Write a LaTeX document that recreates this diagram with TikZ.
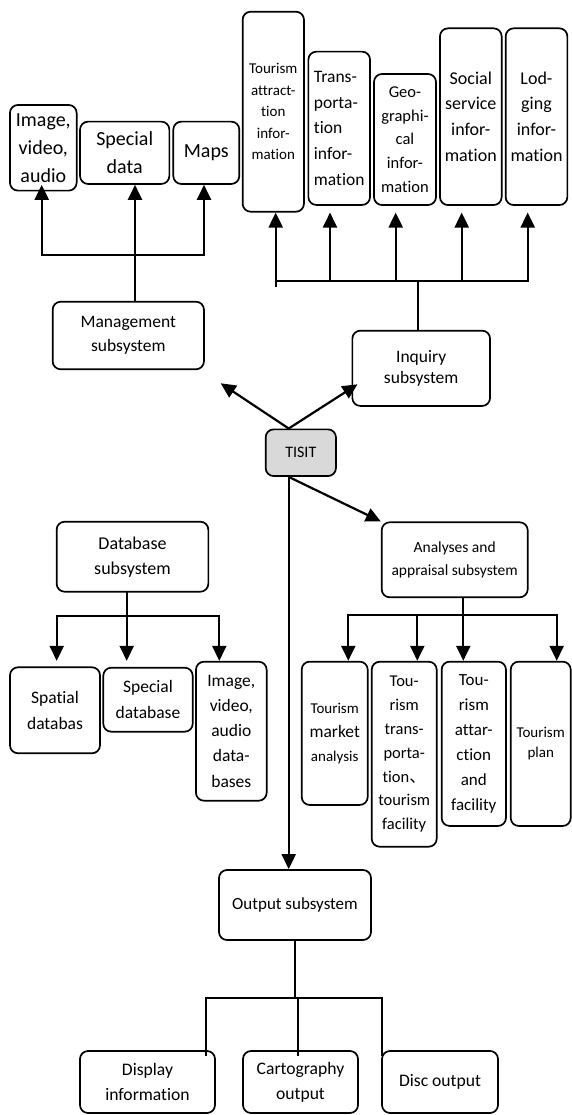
\documentclass[tikz,border=0pt]{standalone}
\usepackage{fontspec}
\setmainfont{Carlito}[Ligatures=NoCommon]
\newfontfamily\cjk{Noto Sans CJK SC}
\usetikzlibrary{
  positioning,
  calc,
  arrows.meta}
\definecolor{rootcolor}{RGB}{217,217,217}
\tikzset{
  %% box : a rounded box of the system chart
  box/.style={
    rectangle,
    draw=black,
    line width=1.7pt,
    rounded corners=8pt,
    inner sep=0pt,
    align=center
  },
  %% rootbox : the system itself
  rootbox/.style={
    box,
    fill=rootcolor
  },
  %% fs : font size and line spacing
  fs/.style 2 args={font=\fontsize{#1}{#2}\selectfont},
  %% wire : plain connection
  wire/.style={line width=2.2pt, line cap=rect},
  %% feed : connection with an arrow head
  feed/.style={line width=2.2pt, -{Triangle[length=15pt, width=14pt]}}
}

\begin{document}
\begin{tikzpicture}
  [x=1pt,
  y=-1pt,
  align=center]

  \useasboundingbox (0,0) rectangle (572,1115);
  \clip (0,0) rectangle (572,1115);

  %% management subsystem
  \node (imgdata) [box, fs={20}{28}, minimum width=66.7pt, minimum height=85.7pt]
    at (43.3,147.8) {%
    Image,\\video,\\audio};
  \node (specdata) [box, fs={20}{28}, minimum width=89.3pt, minimum height=62.3pt]
    at (124.7,152.8) {%
    Special\\data};
  \node (maps) [box, fs={20}{28}, minimum width=66pt, minimum height=62.3pt]
    at (206.3,152.8) {%
    Maps};
  \node (mgmt) [box, fs={17.5}{24}, minimum width=151.3pt, minimum height=67.6pt]
    at (128.3,335.5) {%
    Management\\subsystem};

  %% inquiry subsystem
  \node (tourinfo) [box, fs={15}{21.5}, minimum width=61.3pt, minimum height=200pt]
    at (273.3,111.7) {%
    Tourism\\attract-\\tion\\infor-\\mation};
  \node (transinfo) [box, fs={17.5}{25.8}, align=left, minimum width=61.7pt, minimum height=153.3pt]
    at (339.2,128.3) {%
    Trans-\\porta-\\tion\\infor-\\mation};
  \node (geoinfo) [box, fs={16.5}{23.7}, minimum width=62pt, minimum height=131pt]
    at (405,139.5) {%
    Geo-\\graphi-\\cal\\infor-\\mation};
  \node (socinfo) [box, fs={18}{25.8}, minimum width=61.7pt, minimum height=176.7pt]
    at (470.8,116.7) {%
    Social\\service\\infor-\\mation};
  \node (lodginfo) [box, fs={18}{25.8}, minimum width=61.7pt, minimum height=176.7pt]
    at (536.5,116.7) {%
    Lod-\\ging\\infor-\\mation};
  \node (inquiry) [box, fs={17.5}{21.5}, minimum width=137.7pt, minimum height=75.3pt]
    at (421.2,368.3) {%
    Inquiry\\subsystem};

  %% the system
  \node (tisit) [rootbox, fs={16}{20}, minimum width=70.3pt, minimum height=46.7pt]
    at (300.8,452.7) {%
    TISIT};

  %% database subsystem
  \node (database) [box, fs={18}{25}, minimum width=151.7pt, minimum height=70pt]
    at (132.5,556.7) {%
    Database\\subsystem};
  \node (spatialdb) [box, fs={17.5}{26}, minimum width=90pt, minimum height=86pt]
    at (55,710.3) {%
    Spatial\\databas};
  \node (specdb) [box, fs={17.5}{26}, minimum width=89.4pt, minimum height=64pt]
    at (148,699.7) {%
    Special\\database};
  \node (imgdb) [box, fs={17.5}{25.2}, minimum width=70.7pt, minimum height=139pt]
    at (231.3,731.2) {%
    Image,\\video,\\audio\\data-\\bases};

  %% analyses subsystem
  \node (analyses) [box, fs={15.5}{23}, minimum width=146pt, minimum height=75pt]
    at (454.7,559.8) {%
    Analyses and\\appraisal subsystem};
  \node (market) [box, fs={17.5}{24}, minimum width=66pt, minimum height=143.3pt]
    at (334.7,733.3) {%
    {\fontsize{15}{24}\selectfont Tourism}\\market\\{\fontsize{15}{24}\selectfont analysis}};
  \node (transfac) [box, fs={16.5}{23.9}, minimum width=65pt, minimum height=185pt]
    at (404.2,754.2) {%
    Tou-\\rism\\trans-\\porta-\\tion{\cjk 、}\\tourism\\facility};
  \node (attrfac) [box, fs={17}{25}, minimum width=64.3pt, minimum height=164.3pt]
    at (473.8,743.8) {%
    Tou-\\rism\\attar-\\ction\\and\\facility};
  \node (plan) [box, fs={15}{20}, minimum width=60pt, minimum height=164.3pt]
    at (540.7,743.8) {%
    Tourism\\plan};

  %% output subsystem
  \node (output) [box, fs={17}{20}, minimum width=152pt, minimum height=70pt]
    at (295,905) {%
    Output subsystem};
  \node (display) [box, fs={17.6}{25}, minimum width=135pt, minimum height=62pt]
    at (147.5,1082) {%
    Display\\information};
  \node (carto) [box, fs={17.6}{25}, minimum width=115pt, minimum height=62pt]
    at (300.5,1082) {%
    Cartography\\output};
  \node (disc) [box, fs={17.6}{25}, minimum width=116pt, minimum height=62pt]
    at (440,1082) {%
    Disc output};


  %% Connections

  % management
  \coordinate (mgmtL) at (41.7,255);
  \coordinate (mgmtM) at (135,255);
  \coordinate (mgmtR) at (204,255);
  \draw [feed] (mgmt.north -| mgmtM) -- (mgmtM |- specdata.south);
  \draw [wire] (mgmtL) -- (mgmtR);
  \draw [feed] (mgmtL) -- (mgmtL |- specdata.south);
  \draw [feed] (mgmtR) -- (mgmtR |- specdata.south);

  % inquiry
  \coordinate (inqL) at (275.7,281);
  \coordinate (inqM) at (418.3,281);
  \coordinate (inqR) at (527.7,281);
  \coordinate (inq2) at (330,281);
  \coordinate (inq3) at (395.7,281);
  \coordinate (inq4) at (461.7,281);
  \draw [wire] (inquiry.north -| inqM) -- (inqM);
  \draw [wire] (inqL) -- (inqR);
  \draw [feed] ([yshift=-6.3pt]inqL) -- (inqL |- tourinfo.south);
  \draw [feed] (inq2) -- (inq2 |- tourinfo.south);
  \draw [feed] (inq3) -- (inq3 |- tourinfo.south);
  \draw [feed] (inq4) -- (inq4 |- tourinfo.south);
  \draw [feed] (inqR) -- (inqR |- tourinfo.south);

  % system
  \coordinate (tisitx) at (288.7,0);
  \coordinate (mgmtgap) at (220.7,383.3);
  \draw [feed] (tisit.north -| tisitx) -- (mgmtgap);
  \draw [feed] (tisit.north -| tisitx) -- ([xshift=6pt, yshift=-16pt]inquiry.west);
  \draw [feed] (tisit.south -| tisitx) -- (analyses.north west);
  \draw [feed] (tisit.south -| tisitx) -- (tisitx |- output.north);

  % database
  \coordinate (dbL) at (56.7,615.7);
  \coordinate (dbM) at (126.7,615.7);
  \coordinate (dbR) at (219.3,615.7);
  \draw [wire] (database.south -| dbM) -- (dbM);
  \draw [wire] (dbL) -- (dbR);
  \draw [feed] (dbL) -- (dbL |- imgdb.north);
  \draw [feed] (dbM) -- (dbM |- imgdb.north);
  \draw [feed] (dbR) -- (dbR |- imgdb.north);

  % analyses
  \coordinate (anL) at (348.3,615);
  \coordinate (an2) at (417.3,615);
  \coordinate (anM) at (463.3,615);
  \coordinate (anR) at (556.7,615);
  \draw [wire] (analyses.south -| anM) -- (anM);
  \draw [wire] (anL) -- (anR);
  \draw [feed] (anL) -- (anL |- market.north);
  \draw [feed] (an2) -- (an2 |- market.north);
  \draw [feed] (anM) -- (anM |- market.north);
  \draw [feed] (anR) -- (anR |- market.north);

  % output
  \coordinate (outL) at (206,998);
  \coordinate (outM) at (295,998);
  \coordinate (out2) at (298,998);
  \coordinate (outR) at (382,998);
  \draw [wire] (output.south -| outM) -- (outM);
  \draw [wire] (outL) -- (outR);
  \draw [wire] (outL) -- ([yshift=-5pt]outL |- display.north);
  \draw [wire] (out2) -- ([yshift=-5pt]out2 |- carto.north);
  \draw [wire] (outR) -- ([yshift=-5pt]outR |- disc.north);

\end{tikzpicture}
\end{document}
